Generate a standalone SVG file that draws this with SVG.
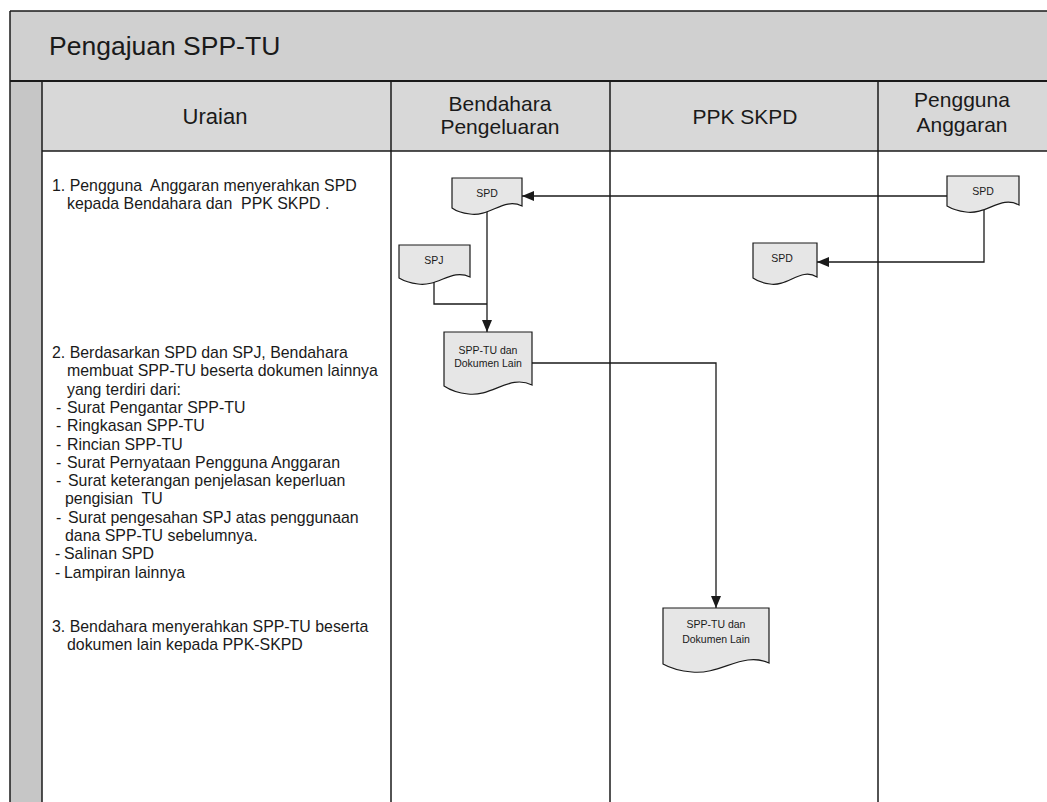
<svg xmlns="http://www.w3.org/2000/svg" width="1047" height="802" viewBox="0 0 1047 802">
<style>
.frame{stroke:#1a1a1a;stroke-width:1.5;fill:none}
.band{fill:#d0d0d0}
.hdr{fill:#d8d8d8}
.strip{fill:#c6c6c6}
.title{font-family:"Liberation Sans",Arial,sans-serif;font-size:26.5px;fill:#1a1a1a}
.head{font-family:"Liberation Sans",Arial,sans-serif;font-size:21px;fill:#1a1a1a;text-anchor:middle}
.body{font-family:"Liberation Sans",Arial,sans-serif;font-size:15.9px;fill:#1a1a1a;white-space:pre}
.doc{fill:#e6e6e6;stroke:#1a1a1a;stroke-width:1.2}
.dl{font-family:"Liberation Sans",Arial,sans-serif;font-size:10.5px;fill:#1a1a1a;text-anchor:middle}
.conn{fill:none;stroke:#1a1a1a;stroke-width:1.3}
</style>
<defs>
<marker id="arr" viewBox="0 0 12 10" refX="12" refY="5" markerWidth="12" markerHeight="10" markerUnits="userSpaceOnUse" orient="auto">
<path d="M0,0 L12,5 L0,10 Z" fill="#1a1a1a"/>
</marker>
</defs>
<rect x="0" y="0" width="1047" height="802" fill="#ffffff"/>
<g id="frame">
<rect class="band" x="10" y="11" width="1037" height="70"/>
<rect class="strip" x="10" y="81" width="32" height="721"/>
<rect class="hdr" x="42" y="81" width="1005" height="70"/>
<line class="frame" x1="10" y1="11" x2="1047" y2="11"/>
<line class="frame" x1="10" y1="11" x2="10" y2="802"/>
<line class="frame" x1="10" y1="81" x2="1047" y2="81" style="stroke-width:2"/>
<line class="frame" x1="42" y1="151" x2="1047" y2="151"/>
<line class="frame" x1="42" y1="81" x2="42" y2="802"/>
<line class="frame" x1="391" y1="81" x2="391" y2="802"/>
<line class="frame" x1="610" y1="81" x2="610" y2="802"/>
<line class="frame" x1="878" y1="81" x2="878" y2="802"/>
<text class="title" x="49" y="55">Pengajuan SPP-TU</text>
<text class="head" x="215" y="124" style="font-size:22px">Uraian</text>
<text class="head" x="500" y="111">Bendahara</text>
<text class="head" x="500" y="134">Pengeluaran</text>
<text class="head" x="745" y="124">PPK SKPD</text>
<text class="head" x="962" y="107">Pengguna</text>
<text class="head" x="962" y="132">Anggaran</text>
</g>
<g id="uraian">
<text class="body" x="52" y="191">1. Pengguna&#160; Anggaran menyerahkan SPD</text>
<text class="body" x="67" y="209">kepada Bendahara dan&#160; PPK SKPD .</text>
<text class="body" x="52" y="358">2. Berdasarkan SPD dan SPJ, Bendahara</text>
<text class="body" x="67" y="376.3">membuat SPP-TU beserta dokumen lainnya</text>
<text class="body" x="67" y="394.6">yang terdiri dari:</text>
<text class="body" y="412.9"><tspan x="56">-</tspan><tspan x="67">Surat Pengantar SPP-TU</tspan></text>
<text class="body" y="431.2"><tspan x="56">-</tspan><tspan x="67">Ringkasan SPP-TU</tspan></text>
<text class="body" y="449.5"><tspan x="56">-</tspan><tspan x="67">Rincian SPP-TU</tspan></text>
<text class="body" y="467.8"><tspan x="56">-</tspan><tspan x="67">Surat Pernyataan Pengguna Anggaran</tspan></text>
<text class="body" y="486.1"><tspan x="56">-</tspan><tspan x="68">Surat keterangan penjelasan keperluan</tspan></text>
<text class="body" x="65" y="504.4">pengisian&#160; TU</text>
<text class="body" y="522.7"><tspan x="56">-</tspan><tspan x="68">Surat pengesahan SPJ atas penggunaan</tspan></text>
<text class="body" x="65" y="541">dana SPP-TU sebelumnya.</text>
<text class="body" y="559.3"><tspan x="55">-</tspan><tspan x="64">Salinan SPD</tspan></text>
<text class="body" y="577.6"><tspan x="55">-</tspan><tspan x="64">Lampiran lainnya</tspan></text>
<text class="body" x="52" y="632">3. Bendahara menyerahkan SPP-TU beserta</text>
<text class="body" x="67" y="650">dokumen lain kepada PPK-SKPD</text>
</g>
<g id="connectors">
<path class="conn" d="M947,196 H522" marker-end="url(#arr)"/>
<path class="conn" d="M984,205 V262 H817" marker-end="url(#arr)"/>
<path class="conn" d="M487,207 V332" marker-end="url(#arr)"/>
<path class="conn" d="M434,279 V304 H487"/>
<path class="conn" d="M532,363 H716 V608" marker-end="url(#arr)"/>
</g>
<g id="doc-spd-bendahara">
<path class="doc" d="M452,178 H522 V206 C504,197 490,217 470,214 C462,213 456,211 452,208 Z"/>
<text class="dl" x="487" y="197">SPD</text>
</g>
<g id="doc-spj">
<path class="doc" d="M399,245 H470 V277 C452,268 438,287 418,284 C410,283 404,281 399,278 Z"/>
<text class="dl" x="434" y="264">SPJ</text>
</g>
<g id="doc-spptu-bendahara">
<path class="doc" d="M444,332 H532 V385 C510,374 492,397 468,394 C458,393 450,390 444,386 Z"/>
<text class="dl" x="488" y="354">SPP-TU dan</text>
<text class="dl" x="488" y="367">Dokumen Lain</text>
</g>
<g id="doc-spd-pengguna">
<path class="doc" d="M947,176 H1019 V205 C1001,195 987,215 966,212 C958,211 952,209 947,206 Z"/>
<text class="dl" x="983" y="195">SPD</text>
</g>
<g id="doc-spd-ppk">
<path class="doc" d="M753,243 H817 V277 C801,267 788,287 770,284 C763,283 757,281 753,278 Z"/>
<text class="dl" x="782" y="262">SPD</text>
</g>
<g id="doc-spptu-ppk">
<path class="doc" d="M663,608 H769 V663 C743,651 721,675 692,672 C680,671 670,668 663,664 Z"/>
<text class="dl" x="716" y="628">SPP-TU dan</text>
<text class="dl" x="716" y="643">Dokumen Lain</text>
</g>
</svg>
